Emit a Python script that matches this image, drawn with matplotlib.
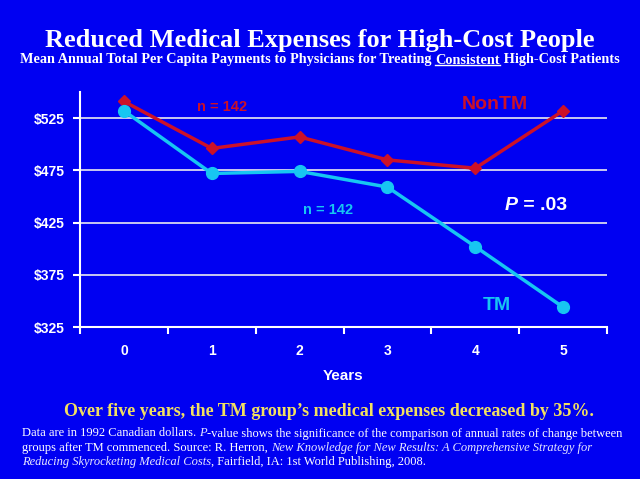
import matplotlib
matplotlib.use("Agg")
import matplotlib.pyplot as plt
from matplotlib.lines import Line2D

years = [0, 1, 2, 3, 4, 5]
nontm = [541, 496, 507, 485, 477, 532]
tm = [532, 472, 474, 459, 402, 344]
yticks = [325, 375, 425, 475, 525]
ytick_labels = ["$325", "$375", "$425", "$475", "$525"]

BG = "#0000F2"
RED = "#CC1128"
CYAN = "#17C6F2"
GRID = "#D8D8F0"
SERIF = "Liberation Serif"
SANS = "Liberation Sans"

fig = plt.figure(figsize=(6.4, 4.79), dpi=100, facecolor=BG)
ax = fig.add_axes([80/640, 1-327/479, (607-80)/640, (327-92)/479], facecolor=BG)

for y in yticks[1:]:
    ax.axhline(y, color=GRID, lw=1.3, zorder=1)

ax.plot(years, nontm, color=RED, lw=2.5, marker="D", ms=6.5, zorder=3)
ax.plot(years, tm, color=CYAN, lw=2.5, marker="o", ms=8.5, zorder=3)

ax.set_xlim(-0.5, 5.5)
ax.set_ylim(325, 550)
ax.set_yticks(yticks)
ax.set_yticklabels(ytick_labels, fontfamily=SANS, fontweight="bold", fontsize=10, color="white")
ax.set_xticks([x - 0.5 for x in years] + [5.5])
ax.set_xticklabels([])
ax.set_xticks(years, minor=True)
ax.set_xticklabels([str(y) for y in years], minor=True, fontfamily=SANS, fontweight="bold", fontsize=10, color="white")
ax.tick_params(axis="x", which="major", length=5, width=1.5, color="white", direction="out")
ax.tick_params(axis="x", which="minor", length=0, pad=12)
ax.tick_params(axis="y", length=5, width=1.5, color="white", direction="out", pad=6)
for s in ["top", "right"]:
    ax.spines[s].set_visible(False)
for s in ["left", "bottom"]:
    ax.spines[s].set_color("white")
    ax.spines[s].set_linewidth(1.5)
ax.set_xlabel("Years", fontfamily=SANS, fontweight="bold", fontsize=11, color="white", labelpad=8)

ax.text(1.12, 536, "n = 142", color=RED, fontfamily=SANS, fontweight="bold", fontsize=10.5, ha="center", va="center")
ax.text(2.32, 437, "n = 142", color=CYAN, fontfamily=SANS, fontweight="bold", fontsize=10.5, ha="center", va="center")
ax.text(4.22, 538, "NonTM", color=RED, fontfamily=SANS, fontweight="bold", fontsize=14, ha="center", va="center")
ax.text(4.25, 346, "TM", color=CYAN, fontfamily=SANS, fontweight="bold", fontsize=14, ha="center", va="center")
pt = ax.text(4.34, 441, "P", color="white", fontfamily=SANS, fontweight="bold", fontstyle="italic", fontsize=14, ha="left", va="center")
ax.annotate(" = .03", xy=(1, 0.5), xycoords=pt, color="white", fontfamily=SANS, fontweight="bold", fontsize=14, ha="left", va="center")

# Title
fig.text(0.5, 1-40/479, "Reduced Medical Expenses for High-Cost People", color="white",
         fontfamily=SERIF, fontweight="bold", fontsize=19, ha="center", va="center")

# Subtitle with underlined word
SUBFS = 10.3
SUBY = 1 - 63.5/479
sub_parts = ["Mean Annual Total Per Capita Payments to Physicians for Treating ", "Consistent", " High-Cost Patients"]
s0 = fig.text(0, SUBY, sub_parts[0], color="white", fontfamily=SERIF, fontweight="bold", fontsize=SUBFS, ha="left", va="baseline")
s1 = fig.text(0, SUBY, sub_parts[1], color="white", fontfamily=SERIF, fontweight="bold", fontsize=SUBFS, ha="left", va="baseline")
s2 = fig.text(0, SUBY, sub_parts[2], color="white", fontfamily=SERIF, fontweight="bold", fontsize=SUBFS, ha="left", va="baseline")

# Yellow summary
fig.text(0.514, 1-412/479, "Over five years, the TM group\u2019s medical expenses decreased by 35%.", color="#F2E060",
         fontfamily=SERIF, fontweight="bold", fontsize=13, ha="center", va="center")

# Footnote lines
fs = 9
lines = [
    [("Data are in 1992 Canadian dollars. ", "normal"), ("P", "italic"),
     ("-value shows the significance of the comparison of annual rates of change between", "normal")],
    [("groups after TM commenced. Source: R. Herron, ", "normal"),
     ("New Knowledge for New Results: A Comprehensive Strategy for", "italic")],
    [("Reducing Skyrocketing Medical Costs", "italic"), (", Fairfield, IA: 1st World Publishing, 2008.", "normal")],
]
ys = [436.5, 451, 465.5]
fig.canvas.draw()
r = fig.canvas.get_renderer()

def chain(parts, x0, y0):
    x = x0
    for txt, style in parts:
        col = "white" if style == "normal" else "#E6E6FF"
        t = fig.text(x / 640, 1 - y0 / 479, txt, color=col, fontfamily=SERIF, fontstyle=style,
                     fontsize=fs, ha="left", va="baseline")
        fig.canvas.draw()
        x = t.get_window_extent(r).x1

for parts, y in zip(lines, ys):
    chain(parts, 22, y)

# position subtitle parts
fig.canvas.draw()
b0 = s0.get_window_extent(r)
b1 = s1.get_window_extent(r)
b2 = s2.get_window_extent(r)
total = b0.width + b1.width + b2.width
x0 = (640 - total) / 2
s0.set_x(x0 / 640)
fig.canvas.draw()
b0 = s0.get_window_extent(r)
s1.set_x(b0.x1 / 640)
fig.canvas.draw()
b1 = s1.get_window_extent(r)
s2.set_x(b1.x1 / 640)
fig.canvas.draw()
uy = SUBY * 479 - 1.5
fig.add_artist(Line2D([b1.x0 / 640, b1.x1 / 640], [uy / 479, uy / 479], color="white", lw=1, transform=fig.transFigure))

fig.savefig("out.png", dpi=100, facecolor=BG)
